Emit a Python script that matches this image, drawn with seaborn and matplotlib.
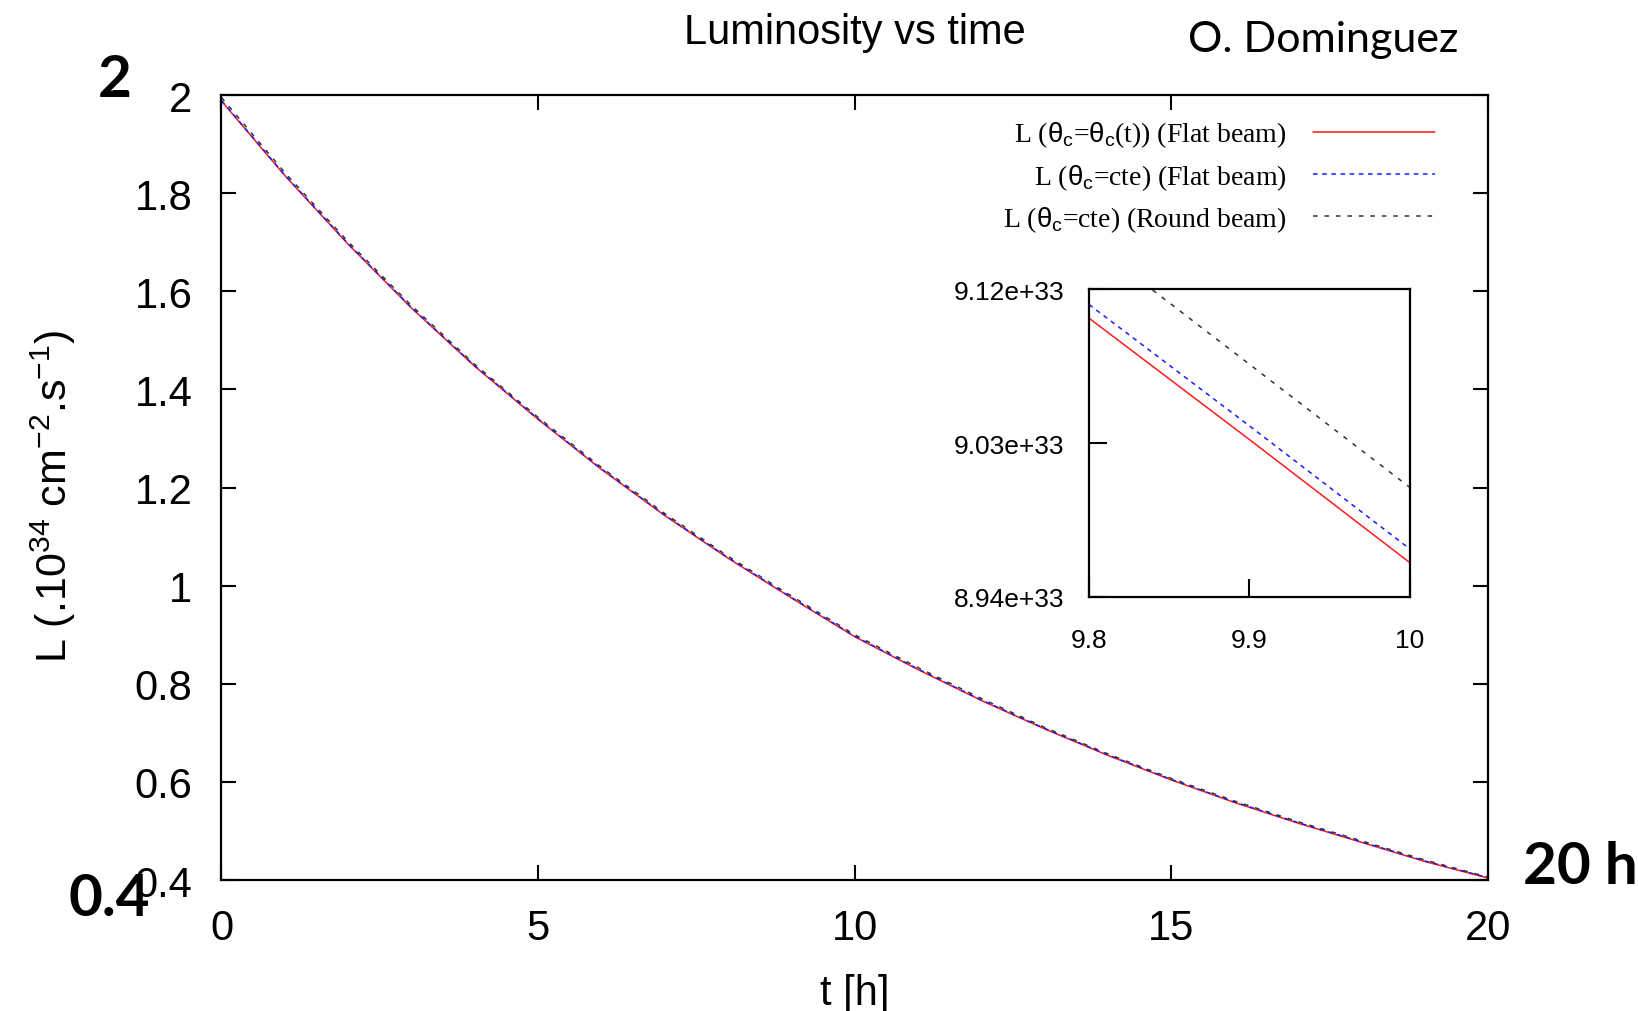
import numpy as np
import matplotlib
matplotlib.use("Agg")
import matplotlib.pyplot as plt
import seaborn as sns

sns.set_style('ticks')
plt.rcParams['font.family'] = ['Liberation Sans', 'DejaVu Sans']
plt.rcParams['mathtext.fontset'] = 'custom'
plt.rcParams['mathtext.rm'] = 'Liberation Sans'
plt.rcParams['mathtext.it'] = 'Liberation Sans'
plt.rcParams['text.color'] = 'black'
plt.rcParams['axes.labelcolor'] = 'black'
plt.rcParams['xtick.color'] = 'black'
plt.rcParams['ytick.color'] = 'black'

# main curves, luminosity in 1e34 cm^-2 s^-1 vs time in hours
hours = [0, 1, 2, 3, 4, 5, 6, 7, 8, 9, 10, 11, 12, 13, 14, 15, 16, 17, 18, 19, 20]
lumi_flat_tdep = [1.988, 1.836, 1.696, 1.566, 1.447, 1.339, 1.237, 1.143, 1.056, 0.975, 0.896,
                  0.829, 0.766, 0.708, 0.654, 0.604, 0.558, 0.516, 0.477, 0.438, 0.404]
lumi_flat_cte = [1.989, 1.837, 1.697, 1.567, 1.448, 1.340, 1.238, 1.144, 1.057, 0.976, 0.897,
                 0.830, 0.767, 0.709, 0.655, 0.605, 0.559, 0.517, 0.478, 0.439, 0.405]
lumi_round_cte = [1.995, 1.842, 1.701, 1.571, 1.451, 1.343, 1.241, 1.147, 1.060, 0.979, 0.900,
                  0.833, 0.770, 0.711, 0.657, 0.607, 0.561, 0.519, 0.480, 0.441, 0.406]

# zoomed region (inset), luminosity in cm^-2 s^-1
zoom_hours = [9.8, 9.9, 10.0]
zoom_flat_tdep = [9.103e33, 9.032e33, 8.960e33]
zoom_flat_cte = [9.111e33, 9.040e33, 8.968e33]
zoom_round_cte = [9.148e33, 9.076e33, 9.004e33]

labels = [r'L ($\theta_c$=$\theta_c$(t)) (Flat beam)',
          r'L ($\theta_c$=cte) (Flat beam)',
          r'L ($\theta_c$=cte) (Round beam)']
colors = ['#ff1a1a', '#1a1aff', '#333333']
styles = ['-', (0, (3, 3)), (0, (3, 4.5))]

fig = plt.figure(figsize=(16.38, 10.12), dpi=100)
ax = fig.add_axes([0.1352, 0.1294, 0.7732, 0.7757])

series = [lumi_flat_tdep, lumi_flat_cte, lumi_round_cte]
for vals, lab, c, ls in zip(series, labels, colors, styles):
    sns.lineplot(x=hours, y=vals, ax=ax, color=c, lw=1.1, linestyle=ls, label=lab)

ax.set_xlim(0, 20)
ax.set_ylim(0.4, 2.0)
ax.set_xticks([0, 5, 10, 15, 20])
ax.set_yticks([0.4, 0.6, 0.8, 1.0, 1.2, 1.4, 1.6, 1.8, 2.0])
ax.set_yticklabels(['0.4', '0.6', '0.8', '1', '1.2', '1.4', '1.6', '1.8', '2'])
ax.tick_params(direction='in', top=True, right=True, length=11, width=1.5,
               labelsize=30, color='black')
ax.tick_params(axis='x', pad=20)
ax.tick_params(axis='y', pad=21)
for s in ax.spines.values():
    s.set_linewidth(1.6)
    s.set_color('black')

ax.set_xlabel('t [h]', fontsize=30)
ax.set_ylabel(r'L (.10$^{34}$ cm$^{-2}$.s$^{-1}$)', fontsize=31)
ax.yaxis.set_label_coords(-0.113, 0.49)
ax.xaxis.set_label_coords(0.5, -0.118)

leg = ax.legend(loc='upper right', frameon=False, markerfirst=False,
                prop={'family': ['Liberation Serif'], 'size': 20},
                handlelength=4.4, handletextpad=0.95, labelspacing=0.45,
                borderaxespad=0.4, bbox_to_anchor=(0.976, 0.997))

# inset
axin = fig.add_axes([0.6648, 0.4091, 0.196, 0.3043])
zoom_series = [zoom_flat_tdep, zoom_flat_cte, zoom_round_cte]
for vals, c, ls in zip(zoom_series, colors, styles):
    sns.lineplot(x=zoom_hours, y=vals, ax=axin, color=c, lw=1.1, linestyle=ls, legend=False)
axin.set_xlim(9.8, 10.0)
axin.set_ylim(8.94e33, 9.12e33)
axin.set_xticks([9.8, 9.9, 10.0], labels=['9.8', '9.9', '10'])
axin.set_yticks([8.94e33, 9.03e33, 9.12e33], labels=['8.94e+33', '9.03e+33', '9.12e+33'])
axin.tick_params(direction='in', length=13, width=1.5, labelsize=19, color='black')
axin.tick_params(axis='x', pad=22)
axin.tick_params(axis='y', pad=18)
axin.set_xlabel('')
axin.set_ylabel('')
for s in axin.spines.values():
    s.set_linewidth(1.6)
    s.set_color('black')

# slide annotations
fig.text(0.522, 0.967, 'Luminosity vs time', fontsize=30, ha='center', va='center',
         family=['Liberation Sans Narrow', 'Liberation Sans'])
fig.text(0.808, 0.960, 'O. Dominguez', fontsize=31, ha='center', va='center',
         family=['Lato', 'DejaVu Sans'])
fig.text(0.070, 0.920, '2', fontsize=42, ha='center', va='center', weight='bold',
         family=['Lato', 'DejaVu Sans'])
fig.text(0.067, 0.111, '0.4', fontsize=42, ha='center', va='center', weight='bold',
         family=['Lato', 'DejaVu Sans'])
fig.text(0.965, 0.143, '20 h', fontsize=42, ha='center', va='center', weight='bold',
         family=['Lato', 'DejaVu Sans'])

fig.savefig('out.png', dpi=100)
